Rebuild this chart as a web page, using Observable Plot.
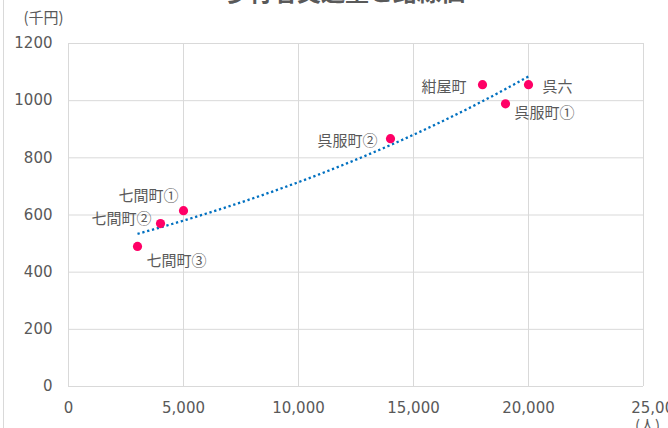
<!DOCTYPE html>
<html lang="ja">
<head>
<meta charset="utf-8">
<script src="https://cdn.jsdelivr.net/npm/d3@7"></script>
<script src="https://cdn.jsdelivr.net/npm/@observablehq/plot@0.6"></script>
<style>
  html, body { margin: 0; padding: 0; background: #fff; overflow: hidden; }
  #wrap { position: relative; width: 668px; height: 428px; overflow: hidden; }
  #edge { position: absolute; left: 3px; top: 0; width: 0; height: 428px; border-left: 1px solid #d9d9d9; }
  #chart { position: absolute; left: 0; top: 0; }
</style>
</head>
<body>
<div id="wrap"><div id="chart"></div><div id="edge"></div></div>
<script>
// 歩行者交通量（人）と路線価（千円）
const title = "歩行者交通量と路線価";
const towns = ["七間町①", "七間町②", "七間町③", "呉服町①", "呉服町②", "紺屋町", "呉六"];
const pedestrians = [5000, 4000, 3000, 19000, 14000, 18000, 20000];
const landPrice = [615, 570, 490, 989, 867, 1056, 1056];
const xTicks = [0, 5000, 10000, 15000, 20000, 25000];
const yTicks = [0, 200, 400, 600, 800, 1000, 1200];
const yUnit = "(千円)";
const xUnit = "(人)";

const points = towns.map((name, i) => ({name, x: pedestrians[i], y: landPrice[i]}));

// Exponential trend line y = a·e^(bx), least squares on ln(y)
const mx = d3.mean(points, d => d.x);
const my = d3.mean(points, d => Math.log(d.y));
const b = d3.sum(points, d => (d.x - mx) * (Math.log(d.y) - my)) / d3.sum(points, d => (d.x - mx) ** 2);
const a = Math.exp(my - b * mx);
const [x0, x1] = d3.extent(points, d => d.x);
const trend = d3.range(x0, x1 + 1, 100).map(x => ({x, y: a * Math.exp(b * x)}));

// Where each label sits relative to its point
const labelPlacement = {
  "七間町①": {textAnchor: "end", dx: -5, dy: -15},
  "七間町②": {textAnchor: "end", dx: -9, dy: -4},
  "七間町③": {textAnchor: "start", dx: 9, dy: 15},
  "呉服町①": {textAnchor: "start", dx: 9, dy: 9},
  "呉服町②": {textAnchor: "end", dx: -13, dy: 3},
  "紺屋町": {textAnchor: "end", dx: -16, dy: 3},
  "呉六": {textAnchor: "start", dx: 14, dy: 3}
};

const textColor = "#595959";
const gridColor = "#d9d9d9";
const jp = "'Noto Sans CJK JP', 'Noto Sans', sans-serif";
const num = "'DejaVu Sans', sans-serif";

const chart = Plot.plot({
  width: 668,
  height: 428,
  marginLeft: 68,
  marginRight: 25,
  marginTop: 43,
  marginBottom: 42,
  style: {color: textColor, background: "transparent", fontFamily: num, fontSize: "15px"},
  x: {domain: [0, 25000]},
  y: {domain: [0, 1200]},
  marks: [
    Plot.gridX(xTicks, {stroke: gridColor, strokeOpacity: 1}),
    Plot.gridY(yTicks, {stroke: gridColor, strokeOpacity: 1}),
    Plot.axisY(yTicks, {tickSize: 0, tickPadding: 16, fontSize: 15, label: null, tickFormat: d3.format("d"), fontFamily: num}),
    Plot.axisX(xTicks.slice(0, -1), {tickSize: 0, tickPadding: 16, fontSize: 15, label: null, tickFormat: d3.format(","), fontFamily: num}),
    Plot.axisX(xTicks.slice(-1), {tickSize: 0, tickPadding: 16, fontSize: 15, label: null, tickFormat: d3.format(","), fontFamily: num, dx: 14}),
    Plot.line(trend, {x: "x", y: "y", stroke: "#0070C0", strokeWidth: 2.3, strokeDasharray: "2.3 2.7", strokeLinecap: "butt"}),
    Plot.dot(points, {x: "x", y: "y", r: 4.6, fill: "#FF0066", stroke: "none"}),
    ...points.map(p => Plot.text([p], {
      x: "x", y: "y", text: "name",
      fontFamily: jp, fontSize: 15, fill: textColor,
      ...labelPlacement[p.name]
    })),
    Plot.text([title], {frameAnchor: "top", dx: -11, dy: -43, lineAnchor: "bottom", fontSize: 24, fontWeight: "bold", fontFamily: jp, fill: textColor}),
    Plot.text([yUnit], {frameAnchor: "top-left", dx: -45, dy: -25, textAnchor: "start", lineAnchor: "middle", fontSize: 15, fontFamily: jp, fill: textColor}),
    Plot.text([xUnit], {frameAnchor: "bottom-right", dx: 4, dy: 40, textAnchor: "middle", lineAnchor: "middle", fontSize: 15, fontFamily: jp, fill: textColor})
  ]
});
document.getElementById("chart").appendChild(chart);
</script>
</body>
</html>
